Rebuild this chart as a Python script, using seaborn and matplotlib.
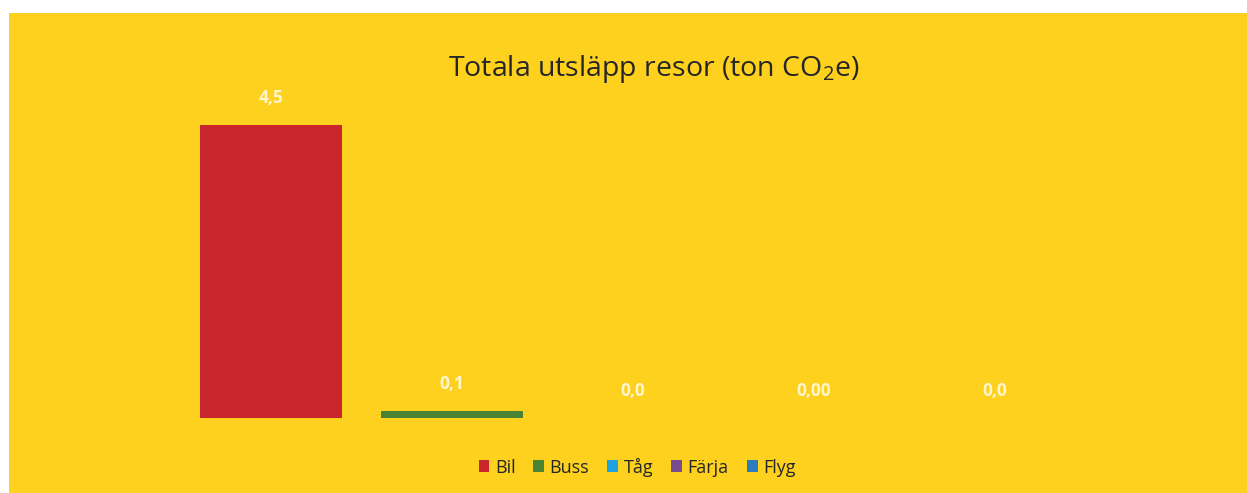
import matplotlib
matplotlib.use("Agg")
import matplotlib.pyplot as plt
import seaborn as sns
import pandas as pd
from matplotlib.patches import Rectangle

# Data
categories = ['Bil', 'Buss', 'Tåg', 'Färja', 'Flyg']
values = [4.5, 0.1, 0.0, 0.0, 0.0]
value_labels = ['4,5', '0,1', '0,0', '0,00', '0,0']
colors = ['#C8262C', '#4A8236', '#1FA3DF', '#774C8E', '#2B7CBE']

bg = '#FDD11E'

sns.set_theme(style="white")
plt.rcParams['font.family'] = ['Open Sans', 'DejaVu Sans']

df = pd.DataFrame({'Transport': categories, 'Utsläpp': values})

fig = plt.figure(figsize=(12.47, 4.93), dpi=100, facecolor='white')
# yellow chart area (white margin at top and left, as in the scan)
fig.patches.append(Rectangle((9 / 1247, 0), 1 - 9 / 1247, 1 - 13 / 493,
                             transform=fig.transFigure, facecolor=bg,
                             edgecolor='none', zorder=-10))

ax = fig.add_axes([180.5 / 1247, 75 / 493, 905 / 1247, 325.6 / 493])
ax.set_facecolor('none')
ax.set_zorder(5)

sns.barplot(data=df, x='Transport', y='Utsläpp', hue='Transport',
            palette=colors, width=0.785, ax=ax, legend=False,
            saturation=1, edgecolor='none')

ax.set_ylim(0, 5)
ax.set_xlim(-0.5, 4.5)

for i, (v, lab) in enumerate(zip(values, value_labels)):
    ax.annotate(lab, (i, v), xytext=(0, 27), textcoords='offset pixels',
                ha='center', va='center', fontsize=12.5, fontweight='bold',
                color='#FFF6D0')

ax.set_xticks([])
ax.set_yticks([])
ax.set_xlabel('')
ax.set_ylabel('')
sns.despine(ax=ax, left=True, bottom=True)

fig.text(654 / 1247, 1 - 69 / 493, r'Totala utsläpp resor (ton CO$\mathregular{_2}$e)',
         ha='center', va='center', fontsize=20.5, color='#262626')

handles = [Rectangle((0, 0), 1, 1, facecolor=c, edgecolor='none') for c in colors]
fig.legend(handles, categories, loc='center', bbox_to_anchor=(637 / 1247, 1 - 467 / 493),
           ncol=5, frameon=False, fontsize=13, handlelength=0.6, handleheight=0.6,
           handletextpad=0.3, columnspacing=1.0, labelcolor='#262626')

fig.savefig('out.png', dpi=100, facecolor='white')
